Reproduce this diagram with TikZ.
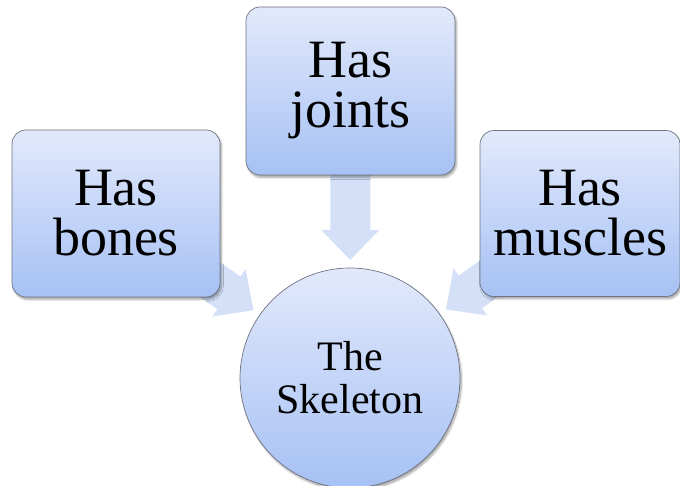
\documentclass[tikz,border=0pt]{standalone}
\usepackage{fontspec}
\setmainfont{Liberation Serif}
\usetikzlibrary{calc,shadows.blur}
\pgfdeclarelayer{bg}
\pgfsetlayers{bg,main}
\definecolor{boxtop}{HTML}{E2E9FB}
\definecolor{boxbot}{HTML}{A6C1F4}
\definecolor{arrowfill}{HTML}{D4DFF8}
\definecolor{edgecol}{HTML}{6E7482}
\newcommand{\flowarrow}[3]{%
  \coordinate (#3h) at ($(#2)!30pt!(#1)$);
  \fill[flowfill] ($(#1)!20pt!90:(#2)$) -- ($(#3h)!20pt!-90:(#1)$) -- ($(#3h)!29pt!-90:(#1)$)
     -- (#2) -- ($(#3h)!29pt!90:(#1)$) -- ($(#3h)!20pt!90:(#1)$) -- ($(#1)!20pt!-90:(#2)$) -- cycle;}
\begin{document}
\begin{tikzpicture}[x=1pt,y=1pt,
  box/.style={draw=edgecol, line width=0.7pt, rounded corners=14pt,
    top color=boxtop, bottom color=boxbot, align=center, inner sep=0pt,
    font=\fontsize{54}{50}\selectfont,
    blur shadow={shadow xshift=1.5pt, shadow yshift=-2.5pt, shadow blur steps=6, shadow opacity=35}},
  hub/.style={circle, draw=edgecol, line width=0.7pt, minimum size=220pt,
    top color=boxtop, bottom color=boxbot, align=center, inner sep=0pt,
    font=\fontsize{42}{43}\selectfont,
    blur shadow={shadow xshift=1.5pt, shadow yshift=-2.5pt, shadow blur steps=6, shadow opacity=35}},
  flowfill/.style={fill=arrowfill}]
\useasboundingbox (0,0) rectangle (680,486);
\node[box, minimum width=208pt, minimum height=167pt] (bones) at (116,272.5) {Has\\bones};
\node[box, minimum width=209pt, minimum height=168pt] (joints) at (350.5,395) {Has\\joints};
\node[box, minimum width=200pt, minimum height=166pt] (muscles) at (580,272.5) {Has\\muscles};
\node[hub] (sk) at (350,108) {The\\Skeleton};
\coordinate (tipB) at ($(sk.center)!118pt!(bones.center)$);
\coordinate (tipJ) at ($(sk.center)!118pt!(joints.center)$);
\coordinate (tipM) at ($(sk.center)!118pt!(muscles.center)$);
\begin{pgfonlayer}{bg}
\flowarrow{bones.center}{tipB}{ab}
\flowarrow{joints.center}{tipJ}{aj}
\flowarrow{muscles.center}{tipM}{am}
\end{pgfonlayer}
\end{tikzpicture}
\end{document}
